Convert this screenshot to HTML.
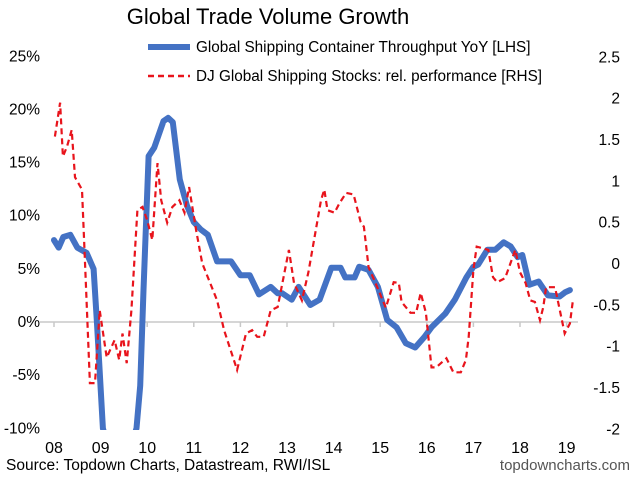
<!DOCTYPE html>
<html><head><meta charset="utf-8"><style>
html,body{margin:0;padding:0;width:638px;height:478px;overflow:hidden;background:#fff;}
svg{display:block;font-family:"Liberation Sans",Arial,sans-serif;overflow:hidden;}
</style></head><body>
<svg id="chart" width="638" height="478">
<defs><clipPath id="plotclip"><rect x="30" y="40" width="560" height="390"/></clipPath></defs>
<text x="268" y="24" font-size="22" text-anchor="middle" fill="#000">Global Trade Volume Growth</text>
<g id="axes"></g>
<g id="series" clip-path="url(#plotclip)"></g>
<g>
<line x1="148" y1="47" x2="190" y2="47" stroke="#4472C4" stroke-width="6"/>
<text x="196" y="52" font-size="15.3">Global Shipping Container Throughput YoY [LHS]</text>
<line x1="148" y1="76" x2="190" y2="76" stroke="#E8141C" stroke-width="2.5" stroke-dasharray="6,4"/>
<text x="196" y="81" font-size="15.3">DJ Global Shipping Stocks: rel. performance [RHS]</text>
</g>
<text x="6" y="470" font-size="15.5">Source: Topdown Charts, Datastream, RWI/ISL</text>
<text x="630" y="470" font-size="15" text-anchor="end" fill="#555">topdowncharts.com</text>
</svg>
<script>
const blueYears=[2008.0,2008.1,2008.2,2008.35,2008.5,2008.7,2008.85,2008.92,2009.05,2009.3,2009.5,2009.77,2009.85,2009.92,2010.03,2010.15,2010.35,2010.45,2010.55,2010.7,2010.85,2011.0,2011.15,2011.3,2011.5,2011.7,2011.8,2012.0,2012.2,2012.4,2012.65,2012.8,2012.9,2013.1,2013.25,2013.5,2013.7,2013.95,2014.15,2014.25,2014.45,2014.55,2014.75,2014.95,2015.15,2015.35,2015.55,2015.75,2015.95,2016.1,2016.4,2016.6,2016.85,2017.0,2017.1,2017.3,2017.47,2017.65,2017.8,2017.95,2018.05,2018.2,2018.4,2018.6,2018.85,2018.97,2019.07];
const blueVals=[7.7,7,8,8.2,7,6.5,5,0,-10,-20,-18,-10,-6,3,15.6,16.4,18.9,19.2,18.8,13.4,11,9.4,8.7,8.2,5.7,5.7,5.7,4.4,4.4,2.6,3.3,2.7,2.7,2.1,3.3,1.6,2.1,5.1,5.1,4.2,4.2,5.2,4.9,3.3,0.2,-0.5,-2,-2.4,-1.4,-0.5,0.8,2.1,4.2,5.2,5.4,6.8,6.8,7.5,7.1,6.1,6.3,3.5,3.8,2.5,2.4,2.8,3];
const redYears=[2008.02,2008.13,2008.19,2008.28,2008.38,2008.45,2008.6,2008.66,2008.77,2008.88,2008.98,2009.13,2009.3,2009.4,2009.47,2009.56,2009.66,2009.79,2009.9,2010.0,2010.11,2010.22,2010.3,2010.43,2010.54,2010.69,2010.8,2010.9,2011.05,2011.18,2011.5,2011.65,2011.93,2012.12,2012.25,2012.36,2012.5,2012.65,2012.8,2013.04,2013.15,2013.32,2013.46,2013.73,2013.8,2013.87,2014.02,2014.13,2014.27,2014.43,2014.58,2014.65,2014.75,2014.9,2015.12,2015.29,2015.4,2015.46,2015.65,2015.77,2015.87,2015.98,2016.1,2016.2,2016.42,2016.57,2016.73,2016.84,2016.9,2017.0,2017.07,2017.32,2017.42,2017.51,2017.68,2017.9,2018.0,2018.12,2018.22,2018.32,2018.43,2018.5,2018.56,2018.75,2018.96,2019.07,2019.13];
const redVals=[1.54,1.95,1.3,1.42,1.62,1.05,0.9,0.08,-1.44,-1.44,-0.56,-1.13,-0.92,-1.16,-0.84,-1.2,-0.56,0.65,0.69,0.53,0.29,1.22,0.77,0.5,0.69,0.77,0.62,0.93,0.41,0.01,-0.44,-0.8,-1.28,-0.84,-0.8,-0.88,-0.88,-0.56,-0.52,0.17,-0.23,-0.44,-0.1,0.77,0.9,0.65,0.62,0.74,0.86,0.84,0.51,0.45,-0.04,-0.23,-0.53,-0.22,-0.23,-0.46,-0.59,-0.59,-0.35,-0.59,-1.25,-1.25,-1.14,-1.31,-1.31,-1.16,-0.88,-0.07,0.21,0.17,-0.16,-0.22,-0.17,0.17,-0.1,-0.23,-0.44,-0.46,-0.68,-0.52,-0.28,-0.28,-0.84,-0.72,-0.46,-0.62,-0.53];
const leftTicks=[25,20,15,10,5,0,-5,-10];
const rightTicks=[2.5,2,1.5,1,0.5,0,-0.5,-1,-1.5,-2];
const yearLabels=["08","09","10","11","12","13","14","15","16","17","18","19"];

const NS="http://www.w3.org/2000/svg";
const xS=y=>54+(y-2008)*46.6;
const yL=v=>322-v*10.63;
const yR=v=>264-v*82.7;
const clampY=y=>Math.max(30,Math.min(470,y));
const axes=document.getElementById('axes'), series=document.getElementById('series');
function mk(tag,attrs,parent){const e=document.createElementNS(NS,tag);for(const k in attrs)e.setAttribute(k,attrs[k]);parent.appendChild(e);return e;}

const zl=mk('line',{x1:40,x2:578,y1:yL(0),y2:yL(0),stroke:'#c8c8c8','stroke-width':1.5},axes);


yearLabels.forEach((lab,i)=>{
  const x=xS(2008+i);
  const t=mk('line',{x1:x,x2:x,y1:yL(0),y2:yL(0)+5,stroke:'#c8c8c8','stroke-width':1.5},axes);
  
  
  const tx=mk('text',{x:x,y:453,'font-size':16,'text-anchor':'middle'},axes);
  tx.textContent=lab;
  
  
});
leftTicks.forEach(v=>{
  const tx=mk('text',{x:40,y:yL(v)+5,'font-size':15.5,'text-anchor':'end'},axes);
  tx.textContent=v+'%';
  
  
});
rightTicks.forEach(v=>{
  const tx=mk('text',{x:620,y:yR(v)+5,'font-size':15.5,'text-anchor':'end'},axes);
  tx.textContent=String(v);
  
  
});
const bp=mk('path',{d:blueYears.map((y,i)=>(i?'L':'M')+xS(y).toFixed(1)+','+clampY(yL(blueVals[i])).toFixed(1)).join(''),fill:'none',stroke:'#4472C4','stroke-width':6,'stroke-linejoin':'round','stroke-linecap':'round'},series);


const rp=mk('path',{d:redYears.map((y,i)=>(i?'L':'M')+xS(y).toFixed(1)+','+clampY(yR(redVals[i])).toFixed(1)).join(''),fill:'none',stroke:'#E8141C','stroke-width':2.2,'stroke-dasharray':'6,4'},series);


</script>
</body></html>
